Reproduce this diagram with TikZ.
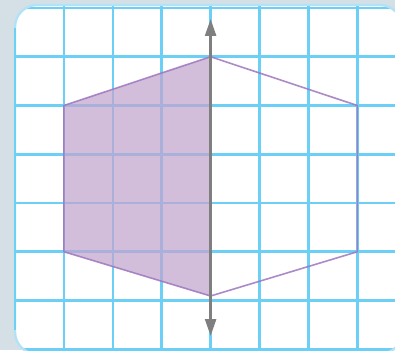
\documentclass[tikz,border=0pt]{standalone}
\usetikzlibrary{arrows.meta}
\definecolor{bgc}{HTML}{D4E0E6}
\definecolor{gridc}{HTML}{6CCFF6}
\definecolor{framec}{HTML}{B2E2F5}
\definecolor{fillc}{RGB}{194,165,206}
\definecolor{edgec}{HTML}{9E76BE}
\definecolor{axisc}{HTML}{7F7F80}
\tikzset{
  gridline/.style={draw=gridc,line width=2.6pt},
  hexedge/.style={draw=edgec,line width=1.6pt,line join=round,opacity=0.85},
  halffill/.style={fill=fillc,fill opacity=0.72},
  axisline/.style={draw=axisc,line width=2.4pt,{Triangle[width=11pt,length=17pt]}-{Triangle[width=11pt,length=17pt]}}
}
\begin{document}
\begin{tikzpicture}[x=1pt,y=-1pt]
\useasboundingbox (0,0) rectangle (395,350);
\fill[bgc] (0,0) rectangle (395,350);
% card
\begin{scope}
\clip[rounded corners=22pt] (15,5) rectangle (402,354);
\fill[white] (15,5) rectangle (402,354);
\foreach \i in {0,...,8} {
  \draw[gridline] ({15+48.9*\i},0) -- ({15+48.9*\i},360);
}
\foreach \j in {0,...,7} {
  \draw[gridline] (0,{8+48.75*\j}) -- (400,{8+48.75*\j});
}
\end{scope}
\draw[framec,line width=2.4pt,rounded corners=22pt] (15,5) rectangle (402,354);
\draw[gridline] (15,28) -- (15,330);
% hexagon
\coordinate (T) at (210.6,56.75);
\coordinate (UR) at (357.3,105.5);
\coordinate (LR) at (357.3,251.75);
\coordinate (B) at (210.6,296);
\coordinate (LL) at (63.9,251.75);
\coordinate (UL) at (63.9,105.5);
\fill[halffill] (T) -- (UL) -- (LL) -- (B) -- cycle;
\draw[hexedge] (T) -- (UR) -- (LR) -- (B) -- (LL) -- (UL) -- cycle;
% axis
\coordinate (AT) at (210.6,19);
\coordinate (AB) at (210.6,336);
\draw[axisline] (AT) -- (AB);
\end{tikzpicture}
\end{document}
